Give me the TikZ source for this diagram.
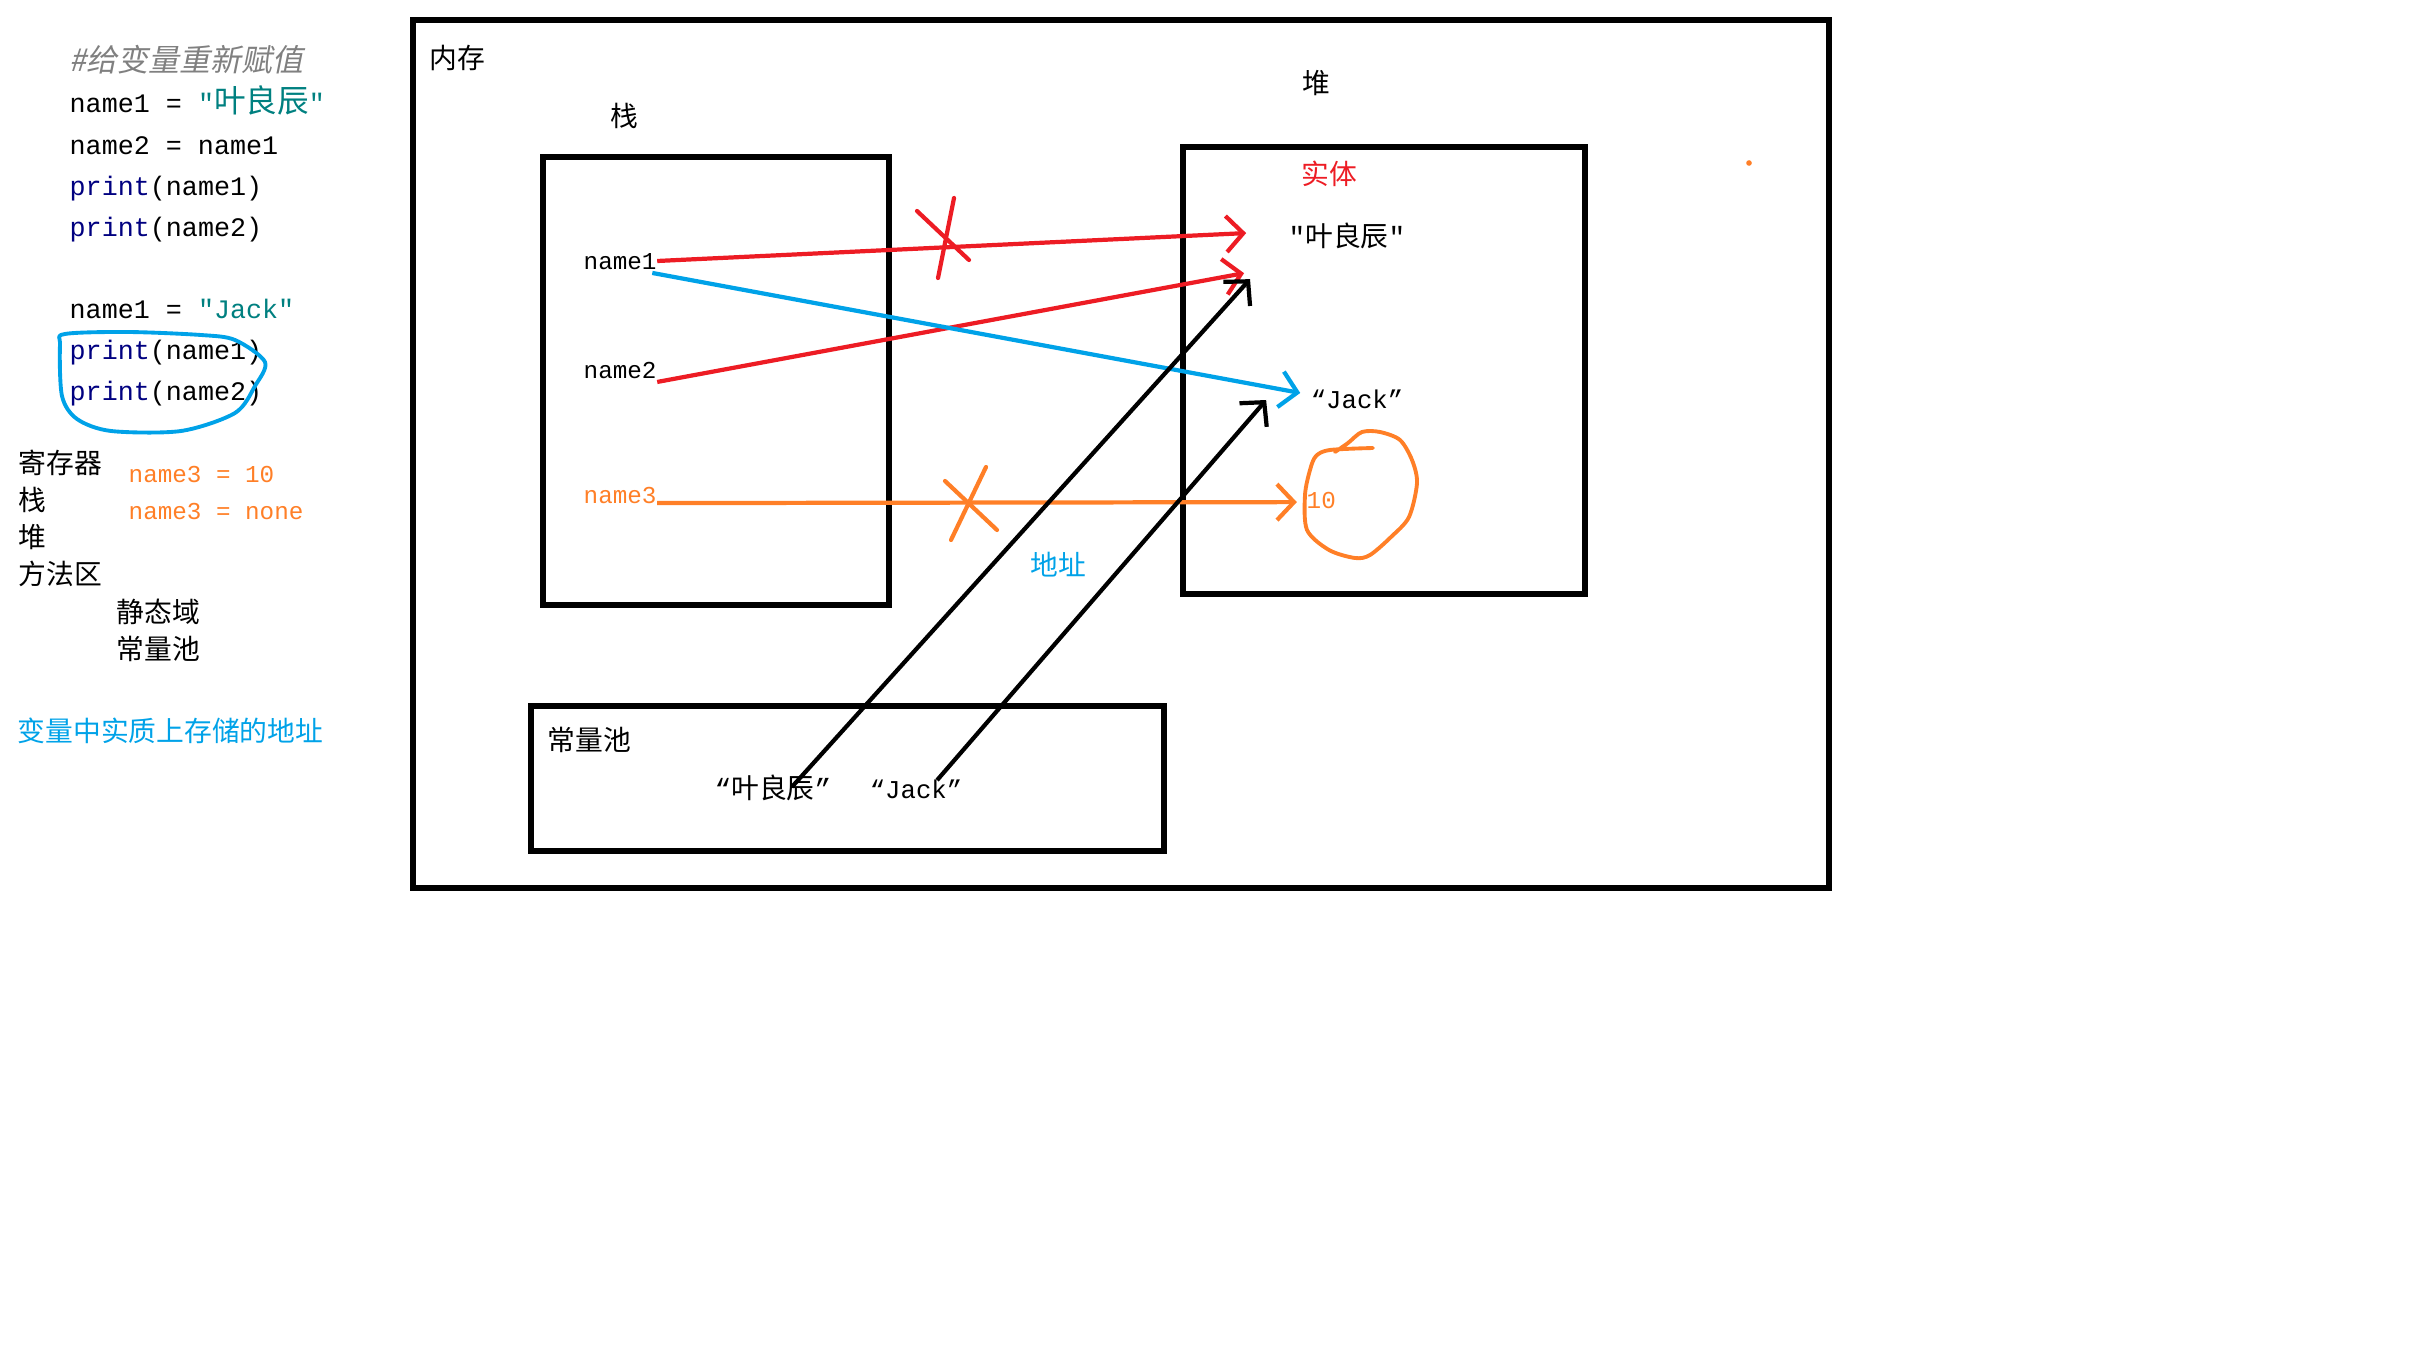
\documentclass[tikz,border=0pt]{standalone}
\usepackage{fontspec}
\setmainfont{Noto Sans CJK SC}
\newfontfamily\codefont{Liberation Mono}
\newfontfamily\slantfont[FakeSlant=0.2]{Noto Sans CJK SC}
\usepackage{xcolor}
\definecolor{pred}{HTML}{ED1C24}
\definecolor{pblue}{HTML}{00A2E8}
\definecolor{porange}{HTML}{FF7F27}
\definecolor{kwblue}{HTML}{000080}
\definecolor{strteal}{HTML}{008080}
\definecolor{cmtgray}{HTML}{808080}
\usepackage{tikz}
\usetikzlibrary{arrows.meta}
\newcommand{\zh}[1]{{\fontsize{9}{10}\rmfamily #1}}
\newcommand{\kw}[1]{\textcolor{kwblue}{#1}}
\newcommand{\dq}{{\codefont"}}
\tikzset{
  >={Straight Barb[length=1.7mm,width=3.6mm]},
  lbl/.style={inner sep=0pt,text height=7pt,text depth=2pt,font=\fontsize{7.9}{10}\selectfont},
  lbll/.style={lbl,anchor=west},
  code/.style={lbll,font=\fontsize{7.6}{10}\codefont},
  dcode/.style={lbll,font=\fontsize{6.9}{10}\codefont},
  membox/.style={draw,line width=1.6pt},
  ptr/.style={->,line width=1.2pt},
  strike/.style={line width=1.2pt,line cap=round},
  scrawl/.style={line width=1.1pt,line cap=round,line join=round},
}
\begin{document}
\begin{tikzpicture}[x=0.01cm,y=-0.01cm]
  \useasboundingbox (0,0) rectangle (2433,1355);
  % source code column
  \node[lbll,font=\fontsize{8.8}{10}\slantfont,text=cmtgray] (cmt) at (69,63) {\#给变量重新赋值};
  \node[code] (c1) at (69,104) {name1 = \textcolor{strteal}{"\zh{叶良辰}"}};
  \node[code] (c2) at (69,146) {name2 = name1};
  \node[code] (c3) at (69,187) {\kw{print}(name1)};
  \node[code] (c4) at (69,228) {\kw{print}(name2)};
  \node[code] (c5) at (69,310) {name1 = \textcolor{strteal}{"Jack"}};
  \node[code] (c6) at (69,351) {\kw{print}(name1)};
  \node[code] (c7) at (69,392) {\kw{print}(name2)};
  \draw[pblue,scrawl] plot[smooth cycle] coordinates {(65,334) (128,332) (201,335) (235,340) (265,362)
    (255,386) (235,413) (181,431) (111,431) (77,419) (62,396) (60,345)};
  % memory areas
  \foreach \nm/\x/\y/\t in {reg/18/465/寄存器, stk/18/502/栈, hp/18/539/堆, mth/18/576/方法区,
                           sta/116/614/静态域, cpl/116/651/常量池}{
    \node[lbll] (\nm) at (\x,\y) {\t};
  }
  \node[dcode,text=porange] (n3a) at (128,474) {name3 = 10};
  \node[dcode,text=porange] (n3b) at (128,511) {name3 = none};
  \node[lbll,text=pblue] (note) at (17,733) {变量中实质上存储的地址};
  % memory
  \draw[membox] (413,20) rectangle (1829,888);
  \node[lbll] (mem) at (429,60) {内存};
  \fill[porange] (1749,163) circle (0.8pt);
  % stack
  \node[lbl] (stklbl) at (624,118) {栈};
  \draw[membox] (543,157) rectangle (889,605);
  \node[dcode] (name1) at (583,261) {name1};
  \node[dcode] (name2) at (583,370) {name2};
  \node[dcode,text=porange] (name3) at (583,495) {name3};
  % heap
  \node[lbl] (hplbl) at (1316,85) {堆};
  \draw[membox] (1183,147) rectangle (1585,594);
  \node[lbl,text=pred] (ent) at (1329,176) {实体};
  \node[lbll] (hye) at (1288,238) {\dq 叶良辰\dq};
  \node[lbl,font=\fontsize{7.3}{10}\codefont] (hjack) at (1357,400) {“Jack”};
  \node[dcode,text=porange] (ten) at (1306,500) {10};
  \draw[porange,scrawl] plot[smooth] coordinates {(1373,448) (1330,450) (1316,456) (1310,470) (1305,495)
    (1307,530) (1329,550) (1355,558) (1370,555) (1391,537) (1409,517) (1417,483) (1412,460)
    (1400,440) (1380,432) (1362,432) (1348,443) (1335,452)};
  % constant pool
  \draw[membox] (531,706) rectangle (1164,851);
  \node[lbll] (pool) at (547,742) {常量池};
  \node[lbl] (pye) at (773,790) {{\codefont “}叶良辰{\codefont ”}};
  \node[lbl,font=\fontsize{7.3}{10}\codefont] (pjack) at (916,790) {“Jack”};
  \node[lbl,text=pblue] (addr) at (1058,567) {地址};
  % references
  \draw[ptr,pred] (name1.east) -- ([xshift=-11.9pt,yshift=1.4pt]hye.west);
  \draw[strike,pred] (917,211) -- (969,260) (954,198) -- (938,278);
  \draw[ptr,pred] ([yshift=-3.4pt]name2.east) -- ([xshift=-12.5pt,yshift=-10pt]hye.west);
  \draw[ptr,pblue] ([xshift=-1.4pt,yshift=-3.4pt]name1.east) -- ([xshift=-2.8pt,yshift=2pt]hjack.west);
  \draw[ptr,porange] ([yshift=-2.3pt]name3.east) -- ([xshift=-2.6pt,yshift=-0.6pt]ten.west);
  \draw[strike,porange] (945,481) -- (997,530) (986,467) -- (951,540);
  \draw[ptr] ([xshift=5.4pt,yshift=0.9pt]pye.center) -- ([xshift=-10.8pt,yshift=-11.7pt]hye.west);
  \draw[ptr] ([xshift=6pt,yshift=2.8pt]pjack.center) -- ([xshift=-12.5pt]hjack.west);
\end{tikzpicture}
\end{document}
